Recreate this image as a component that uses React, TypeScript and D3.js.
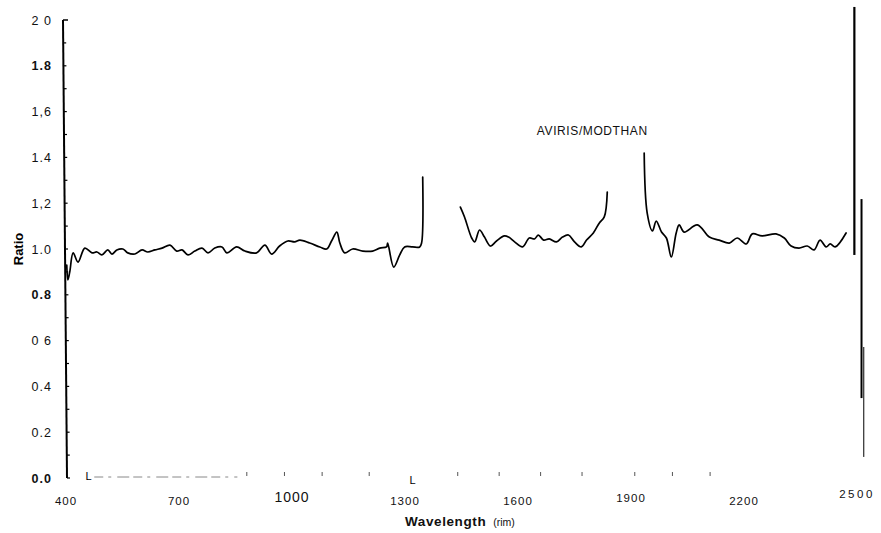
import React, { useEffect, useRef } from "react";
import * as d3 from "d3";

// scanned spectrum ratio, three pieces split by the water bands
const seg1Wave = [402, 405, 410, 419, 432, 450, 469, 482, 495, 511, 522, 535, 551, 564, 583, 602, 617, 636, 655, 676, 694, 708, 724, 742, 761, 777, 795, 814, 827, 853, 875, 906, 928, 946, 967, 989, 1007, 1021, 1047, 1074, 1092, 1105, 1119, 1127, 1140, 1161, 1188, 1214, 1233, 1251, 1254, 1270, 1286, 1299, 1320, 1339, 1344, 1347];
const seg1Ratio = [0.93, 0.865, 0.9, 0.983, 0.943, 1.004, 0.983, 0.987, 0.974, 0.996, 0.978, 0.996, 1.0, 0.983, 0.978, 0.996, 0.987, 0.996, 1.004, 1.017, 0.991, 0.996, 0.974, 0.991, 1.004, 0.983, 1.004, 1.009, 0.983, 1.009, 0.991, 0.983, 1.017, 0.978, 1.013, 1.035, 1.031, 1.039, 1.026, 1.009, 1.0, 1.035, 1.074, 1.026, 0.983, 1.0, 0.991, 0.991, 1.004, 1.009, 1.026, 0.921, 0.974, 1.009, 1.009, 1.009, 1.026, 1.314];

const seg2Wave = [1447, 1458, 1477, 1485, 1498, 1511, 1527, 1543, 1564, 1575, 1591, 1612, 1630, 1644, 1654, 1668, 1683, 1702, 1718, 1734, 1750, 1768, 1782, 1800, 1816, 1829, 1837];
const seg2Ratio = [1.183, 1.14, 1.048, 1.031, 1.083, 1.052, 1.013, 1.035, 1.057, 1.052, 1.031, 1.009, 1.048, 1.044, 1.061, 1.039, 1.044, 1.031, 1.052, 1.061, 1.031, 1.009, 1.039, 1.07, 1.114, 1.14, 1.249];

const seg3Wave = [1935, 1943, 1957, 1967, 1981, 1994, 2007, 2020, 2028, 2041, 2076, 2108, 2134, 2161, 2182, 2206, 2222, 2248, 2285, 2307, 2325, 2346, 2368, 2386, 2402, 2418, 2429, 2442, 2471];
const seg3Ratio = [1.419, 1.157, 1.079, 1.122, 1.074, 1.048, 0.965, 1.07, 1.105, 1.074, 1.105, 1.052, 1.039, 1.026, 1.048, 1.022, 1.066, 1.057, 1.066, 1.048, 1.013, 1.004, 1.013, 0.996, 1.039, 1.009, 1.022, 1.009, 1.07];

const xTicks = [400, 700, 1000, 1300, 1600, 1900, 2200, 2500];
const yTicks = [0, 0.2, 0.4, 0.6, 0.8, 1.0, 1.2, 1.4, 1.6, 1.8, 2.0];
const yTickLabels = ["0.0", "0.2", "0.4", "0 6", "0.8", "1.0", "1,2", "1.4", "1,6", "1.8", "2 0"];
const xFaintTicks = [880, 980, 1080, 1205, 1440, 1550, 1660, 1770, 1910, 2010, 2110];
const xCornerMarks = [460, 1320];

const FONT = "'Liberation Sans', Arial, sans-serif";

export default function App() {
  const ref = useRef<HTMLDivElement>(null);

  useEffect(() => {
    const width = 881;
    const height = 533;
    const root = d3.select(ref.current);
    root.selectAll("*").remove();

    const svg = root
      .append("svg")
      .attr("width", width)
      .attr("height", height)
      .style("position", "absolute")
      .style("left", "0px")
      .style("top", "0px")
      .style("background", "#fff")
      .attr("font-family", FONT);

    const x = d3.scaleLinear().domain([400, 2500]).range([66, 857]);
    const y = d3.scaleLinear().domain([0, 2]).range([478, 20]);

    // y axis (scanned, slightly leaning)
    svg
      .append("line")
      .attr("x1", x(400) - 3)
      .attr("y1", y(2))
      .attr("x2", x(400) + 1)
      .attr("y2", y(0))
      .attr("stroke", "#000")
      .attr("stroke-width", 2);

    const axisX = (v: number) => x(400) - 3 + (4 * (2 - v)) / 2;
    svg
      .append("g")
      .selectAll("line")
      .data(d3.range(0, 20).map((i) => i / 10))
      .join("line")
      .attr("x1", (d) => axisX(d))
      .attr("x2", (d) => axisX(d) + 3)
      .attr("y1", (d) => y(d))
      .attr("y2", (d) => y(d))
      .attr("stroke", "#000")
      .attr("stroke-width", 1.2);
    svg
      .append("line")
      .attr("x1", axisX(2))
      .attr("x2", axisX(2) + 5)
      .attr("y1", y(2))
      .attr("y2", y(2))
      .attr("stroke", "#000")
      .attr("stroke-width", 1.5);

    svg
      .append("g")
      .selectAll("text")
      .data(yTicks)
      .join("text")
      .attr("x", 52)
      .attr("y", (d) => y(d) + 4.5)
      .attr("text-anchor", "end")
      .attr("font-size", 12.5)
      .attr("letter-spacing", 1)
      .attr("font-weight", (d) => (d === 0 || d === 1.8 || d === 0.8 ? "bold" : "normal"))
      .attr("fill", "#111")
      .text((d, i) => yTickLabels[i]);

    svg
      .append("text")
      .attr("transform", `translate(23,${y(1)}) rotate(-90)`)
      .attr("text-anchor", "middle")
      .attr("font-size", 13)
      .attr("font-weight", "bold")
      .text("Ratio");

    // x tick labels (no axis line in the scan)
    svg
      .append("g")
      .selectAll("text")
      .data(xTicks)
      .join("text")
      .attr("x", (d) => x(d))
      .attr("y", (d) => (d === 2500 ? 498 : d === 1900 || d === 1000 ? 502 : 505))
      .attr("text-anchor", "middle")
      .attr("font-size", (d) => (d === 1000 ? 14 : 11.5))
      .attr("letter-spacing", (d) => (d === 2500 ? 2.5 : 1))
      .attr("fill", "#111")
      .text((d) => d);

    // faint remains of the x axis
    svg
      .append("line")
      .attr("x1", x(475))
      .attr("x2", x(855))
      .attr("y1", y(0) - 1)
      .attr("y2", y(0) - 1)
      .attr("stroke", "#888")
      .attr("stroke-width", 1)
      .attr("stroke-dasharray", "9 5 3 6 12 4");
    svg
      .append("g")
      .selectAll("line")
      .data(xFaintTicks)
      .join("line")
      .attr("x1", (d) => x(d))
      .attr("x2", (d) => x(d))
      .attr("y1", y(0) - 6)
      .attr("y2", y(0) - 2)
      .attr("stroke", "#555")
      .attr("stroke-width", 1);
    svg
      .append("g")
      .selectAll("text")
      .data(xCornerMarks)
      .join("text")
      .attr("x", (d) => x(d))
      .attr("y", (d) => (d === 460 ? y(0) + 2 : y(0) + 6))
      .attr("text-anchor", "middle")
      .attr("font-size", 11)
      .attr("fill", "#000")
      .text("L");

    const title = svg.append("text").attr("x", 405).attr("y", 526).attr("fill", "#111");
    title
      .append("tspan")
      .attr("font-size", 13.5)
      .attr("font-weight", "bold")
      .attr("letter-spacing", 0.6)
      .text("Wavelength");
    title.append("tspan").attr("font-size", 10.5).attr("dx", 7).text("(rim)");

    svg
      .append("text")
      .attr("x", x(1650))
      .attr("y", y(1.5))
      .attr("font-size", 12)
      .attr("letter-spacing", 0.6)
      .attr("fill", "#111")
      .text("AVIRIS/MODTHAN");

    // stray vertical rules on the right edge of the scan
    const rules = [
      { at: 2493, from: 2.057, to: 0.974, w: 2.2 },
      { at: 2512, from: 1.218, to: 0.349, w: 2 },
      { at: 2518, from: 0.572, to: 0.092, w: 1 },
    ];
    svg
      .append("g")
      .selectAll("line")
      .data(rules)
      .join("line")
      .attr("x1", (d) => x(d.at))
      .attr("x2", (d) => x(d.at))
      .attr("y1", (d) => y(d.from))
      .attr("y2", (d) => y(d.to))
      .attr("stroke", "#000")
      .attr("stroke-width", (d) => d.w);

    const line = d3
      .line<[number, number]>()
      .x((d) => x(d[0]))
      .y((d) => y(d[1]))
      .curve(d3.curveCatmullRom.alpha(0.5));

    const segments = [
      [seg1Wave, seg1Ratio],
      [seg2Wave, seg2Ratio],
      [seg3Wave, seg3Ratio],
    ].map(([w, r]) => w.map((v, i) => [v, r[i]] as [number, number]));

    svg
      .append("g")
      .selectAll("path")
      .data(segments)
      .join("path")
      .attr("fill", "none")
      .attr("stroke", "#000")
      .attr("stroke-width", 1.7)
      .attr("stroke-linejoin", "round")
      .attr("stroke-linecap", "round")
      .attr("d", (d) => line(d));
  }, []);

  return <div ref={ref} style={{ width: 881, height: 533 }}></div>;
}
